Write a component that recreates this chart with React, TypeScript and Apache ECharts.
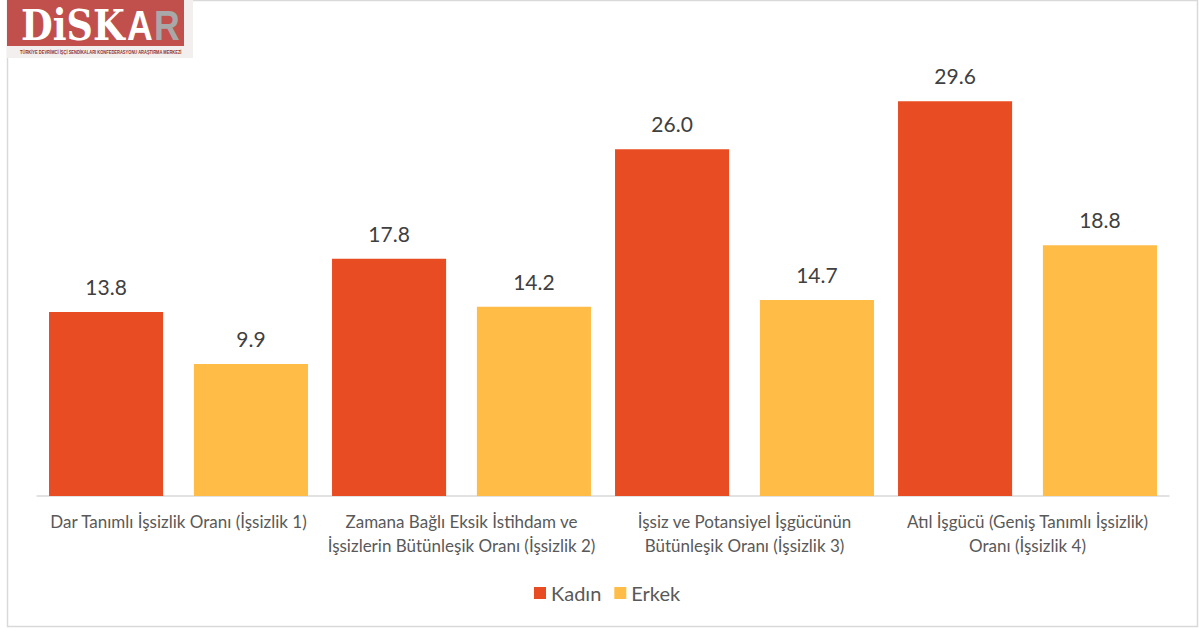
import React, { useEffect, useRef } from "react";
import * as echarts from "echarts";

const categories = [
  "Dar Tanımlı İşsizlik Oranı (İşsizlik 1)",
  "Zamana Bağlı Eksik İstihdam ve\nİşsizlerin Bütünleşik Oranı (İşsizlik 2)",
  "İşsiz ve Potansiyel İşgücünün\nBütünleşik Oranı (İşsizlik 3)",
  "Atıl İşgücü (Geniş Tanımlı İşsizlik)\nOranı (İşsizlik 4)",
];
const seriesNames = ["Kadın", "Erkek"];
const kadin = [13.8, 17.8, 26.0, 29.6];
const erkek = [9.9, 14.2, 14.7, 18.8];

const FONT = "Lato, 'Open Sans', sans-serif";

export default function App() {
  const ref = useRef<HTMLDivElement>(null);
  useEffect(() => {
    if (!ref.current) return;
    const chart = echarts.init(ref.current, undefined, { renderer: "svg" });
    const label = {
      show: true,
      position: "top",
      distance: 15,
      fontSize: 21,
      fontFamily: FONT,
      color: "#404040",
      formatter: (p: any) => Number(p.value).toFixed(1),
    };
    chart.setOption({
      animation: false,
      backgroundColor: "#ffffff",
      textStyle: { fontFamily: FONT },
      grid: { left: 37, right: 30, top: 96, bottom: 133, containLabel: false },
      legend: {
        data: seriesNames,
        left: 529,
        top: 578,
        icon: "rect",
        itemWidth: 12,
        itemHeight: 12,
        itemGap: 13,
        textStyle: { fontSize: 20, color: "#595959", fontFamily: FONT },
      },
      xAxis: {
        type: "category",
        data: categories,
        axisLine: { lineStyle: { color: "#d9d9d9", width: 1.5 } },
        axisTick: { show: false },
        axisLabel: {
          interval: 0,
          margin: 13,
          fontSize: 17,
          lineHeight: 24,
          color: "#595959",
          fontFamily: FONT,
          align: "center",
        },
      },
      yAxis: {
        type: "value",
        min: 0,
        max: 30,
        show: false,
        splitLine: { show: false },
      },
      series: [
        {
          name: seriesNames[0],
          type: "bar",
          data: kadin,
          barGap: "27%",
          barCategoryGap: "8.5%",
          itemStyle: { color: "#E84C22" },
          label,
        },
        {
          name: seriesNames[1],
          type: "bar",
          data: erkek,
          barGap: "27%",
          barCategoryGap: "8.5%",
          itemStyle: { color: "#FFBC47" },
          label,
        },
      ],
      graphic: [
        {
          type: "rect",
          z: -10,
          silent: true,
          shape: { x: 7.5, y: 0.5, width: 1190, height: 626 },
          style: { fill: "none", stroke: "#d9d9d9", lineWidth: 1.5 },
        },
        {
          type: "group",
          left: 7,
          top: 0,
          silent: true,
          children: [
            { type: "rect", shape: { x: 0, y: 0, width: 186, height: 58 }, style: { fill: "#f4efef" } },
            { type: "rect", shape: { x: 0, y: 0, width: 177, height: 46 }, style: { fill: "#C1504C" } },
            {
              type: "text",
              x: 14,
              y: 25,
              scaleX: 0.87,
              style: {
                text: "DiSK",
                fill: "#ffffff",
                font: "bold 42px 'DejaVu Serif', serif",
                verticalAlign: "middle",
              },
            },
            {
              type: "text",
              x: 120,
              y: 25,
              scaleX: 0.85,
              style: {
                text: "A",
                fill: "#ffffff",
                font: "bold 42px 'Liberation Sans', sans-serif",
                verticalAlign: "middle",
              },
            },
            {
              type: "text",
              x: 147,
              y: 25,
              scaleX: 0.85,
              style: {
                text: "R",
                fill: "#a8a8a8",
                font: "bold 42px 'Liberation Sans', sans-serif",
                verticalAlign: "middle",
              },
            },
            {
              type: "text",
              x: 13,
              y: 52,
              scaleX: 0.81,
              style: {
                text: "TÜRKİYE DEVRİMCİ İŞÇİ SENDİKALARI KONFEDERASYONU ARAŞTIRMA MERKEZİ",
                fill: "#8f2f2c",
                font: "bold 5px 'Liberation Sans', sans-serif",
                verticalAlign: "middle",
              },
            },
          ],
        },
      ],
    });
    return () => chart.dispose();
  }, []);
  return (
    <div
      ref={ref}
      style={{ position: "fixed", left: 0, top: 0, width: 1199, height: 629 }}
    />
  );
}
